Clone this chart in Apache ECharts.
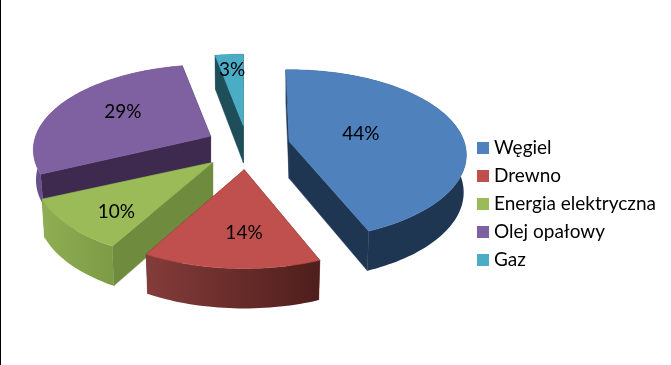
<!DOCTYPE html>
<html>
<head>
<meta charset="utf-8">
<style>
html, body { margin: 0; padding: 0; background: #fff; }
#chart { width: 671px; height: 365px; }
</style>
<script src="https://cdn.jsdelivr.net/npm/echarts@6/dist/echarts.min.js"></script>
</head>
<body>
<div id="chart"></div>
<script>
var categories = ['Węgiel', 'Drewno', 'Energia elektryczna', 'Olej opałowy', 'Gaz'];
var shares = [44, 14, 10, 29, 3];

var topColors = ['#4F81BD', '#C0504D', '#9BBB59', '#7F61A1', '#4BACC6'];
var cutColors = ['#1F3653', '#5A2524', '#6E8B3E', '#3E2A4E', '#1E4E5A'];
var rimColors = [['#1F3653', '#1F3653'], ['#843C3A', '#4E1E1C'], ['#8FAD52', '#7D9B45'], ['#6A4F8E', '#5C437C'], ['#1E4E5A', '#1E4E5A']];
// how far each slice is pulled out, relative to explodeX/explodeY
var pullOut = [1, 1.05, 1.08, 0.95, 0.9];
// small per slice turn in degrees and height, the fake 3d is not exact otherwise
var sliceTurn = [-1.2, 0, 0.8, 0, 0];
var sliceDepth = [1, 1, 1, 0.8, 1];
// label spot inside a slice: part of its sweep, part of its radius
var labelSweep = [0.5, 0.43, 0.37, 0.536, 0.5];
var labelReach = [0.425, 0.68, 0.738, 0.612, 0.76];
// back slices first so the front ones cover them
var drawOrder = [4, 3, 2, 0, 1];

// pie centre, explode distance, radii and the fake perspective
var cx = 247, cy = 146;
var explodeX = 43, explodeY = 22.6;
var radiusX = 175, radiusY = 83;
var persp = 0.16;
var depth = 37;
// the lower ring looks a bit smaller than the top one
var lowerScale = 0.985;

var total = shares.reduce(function (a, b) { return a + b; }, 0);

function project(apex, angle, r, height) {
    var u = Math.sin(angle) * r;
    var v = -Math.cos(angle) * r;
    var k = 1 / (1 - persp * v);
    var x = apex[0] + radiusX * u * k;
    return {
        x: x,
        y: apex[1] + radiusY * v * k,
        lowX: apex[0] + (x - apex[0]) * lowerScale,
        drop: height * (1 + 0.08 * v)
    };
}

function renderSlice(index) {
    return function (params, api) {
        var value = api.value(0);
        var before = 0;
        for (var i = 0; i < index; i++) {
            before += shares[i];
        }
        var turn = sliceTurn[index] * Math.PI / 180;
        var start = before / total * Math.PI * 2 + turn;
        var end = (before + value) / total * Math.PI * 2 + turn;
        var mid = (start + end) / 2;
        var apex = [
            cx + explodeX * pullOut[index] * Math.sin(mid),
            cy - explodeY * pullOut[index] * Math.cos(mid)
        ];
        var height = depth * sliceDepth[index];

        var top = [[apex[0], apex[1]]];
        var rimTop = [];
        var rimBottom = [];
        var steps = Math.max(4, Math.round((end - start) * 40));
        for (var s = 0; s <= steps; s++) {
            var p = project(apex, start + (end - start) * s / steps, 1, height);
            top.push([p.x, p.y]);
            rimTop.push([p.x, p.y]);
            rimBottom.unshift([p.lowX, p.y + p.drop]);
        }

        var a = project(apex, start, 1, height);
        var b = project(apex, end, 1, height);
        var under = [apex[0], apex[1] + height];
        var children = [
            {
                type: 'polygon',
                shape: { points: [[apex[0], apex[1]], [a.x, a.y], [a.lowX, a.y + a.drop], under] },
                style: { fill: cutColors[index], stroke: cutColors[index], lineWidth: 0.5 }
            },
            {
                type: 'polygon',
                shape: { points: [[apex[0], apex[1]], [b.x, b.y], [b.lowX, b.y + b.drop], under] },
                style: { fill: cutColors[index], stroke: cutColors[index], lineWidth: 0.5 }
            },
            {
                type: 'polygon',
                shape: { points: rimTop.concat(rimBottom) },
                style: {
                    fill: {
                        type: 'linear', x: 0, y: 0, x2: 1, y2: 0,
                        colorStops: [
                            { offset: 0, color: rimColors[index][0] },
                            { offset: 1, color: rimColors[index][1] }
                        ]
                    }
                }
            },
            {
                type: 'polygon',
                shape: { points: top },
                style: { fill: topColors[index], stroke: topColors[index], lineWidth: 0.5 }
            }
        ];

        var l = project(apex, start + (end - start) * labelSweep[index], labelReach[index], height);
        children.push({
            type: 'text',
            z2: 10,
            style: {
                x: l.x,
                y: l.y,
                text: value + '%',
                fill: '#000',
                font: '19px Lato',
                align: 'center',
                verticalAlign: 'middle'
            }
        });
        return { type: 'group', children: children };
    };
}

var series = drawOrder.map(function (index, order) {
    return {
        name: categories[index],
        type: 'custom',
        coordinateSystem: 'none',
        z: 2 + order,
        silent: true,
        animation: false,
        itemStyle: { color: topColors[index] },
        renderItem: renderSlice(index),
        data: [[shares[index]]]
    };
});

var chart = echarts.init(document.getElementById('chart'), null, { renderer: 'canvas' });
chart.setOption({
    backgroundColor: '#fff',
    animation: false,
    // the black edge on the left of the picture
    graphic: [{
        type: 'rect',
        silent: true,
        shape: { x: 0, y: 0, width: 1, height: 365 },
        style: { fill: '#000' }
    }],
    legend: {
        orient: 'vertical',
        left: 477,
        top: 137,
        padding: 0,
        data: categories,
        icon: 'rect',
        itemWidth: 12,
        itemHeight: 12,
        itemGap: 6,
        selectedMode: false,
        textStyle: { color: '#000', fontFamily: 'Lato', fontSize: 19, lineHeight: 22 }
    },
    series: series
});
</script>
</body>
</html>
